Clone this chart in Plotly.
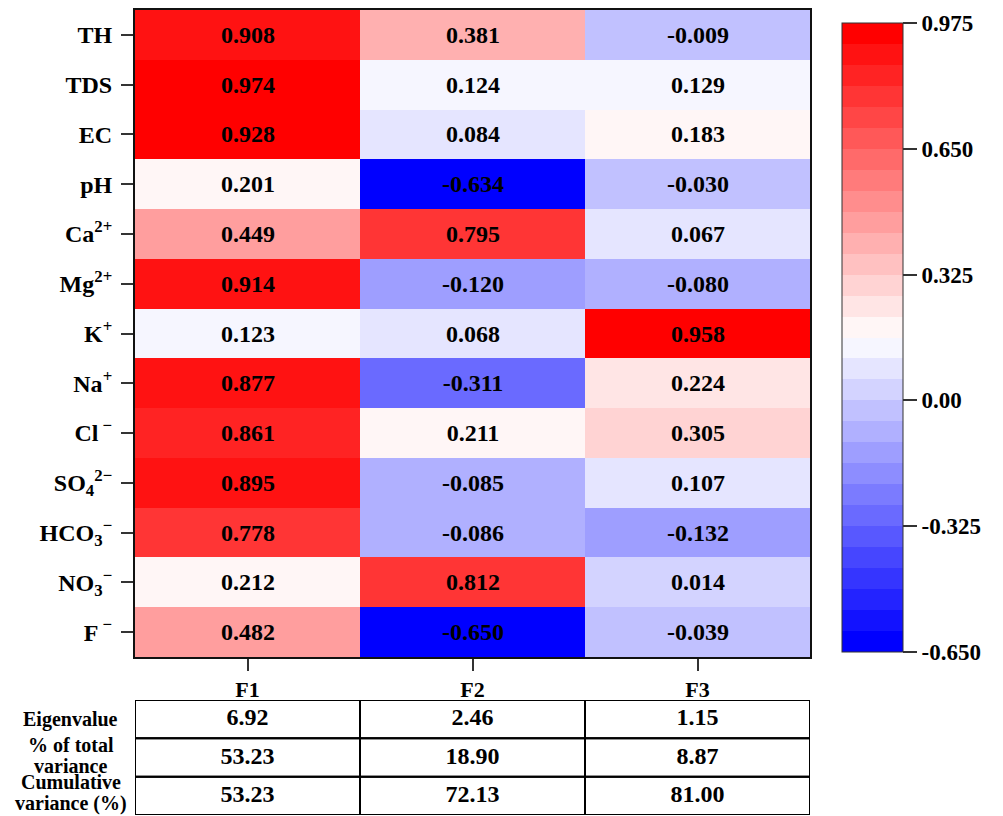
import plotly.graph_objects as go

# ---------------- data ----------------
variables = ["TH", "TDS", "EC", "pH", "Ca<sup>2+</sup>", "Mg<sup>2+</sup>", "K<sup>+</sup>",
             "Na<sup>+</sup>", "Cl<sup> −</sup>", "SO<sub>4</sub><sup>2−</sup>",
             "HCO<sub>3</sub><sup>−</sup>", "NO<sub>3</sub><sup>−</sup>", "F<sup> −</sup>"]
factors = ["F1", "F2", "F3"]
F1 = [0.908, 0.974, 0.928, 0.201, 0.449, 0.914, 0.123, 0.877, 0.861, 0.895, 0.778, 0.212, 0.482]
F2 = [0.381, 0.124, 0.084, -0.634, 0.795, -0.120, 0.068, -0.311, 0.211, -0.085, -0.086, 0.812, -0.650]
F3 = [-0.009, 0.129, 0.183, -0.030, 0.067, -0.080, 0.958, 0.224, 0.305, 0.107, -0.132, 0.014, -0.039]

table_rows = [["Eigenvalue"], ["% of total", "variance"], ["Cumulative", "variance (%)"]]
eigenvalue = [6.92, 2.46, 1.15]
pct_variance = [53.23, 18.90, 8.87]
cum_variance = [53.23, 72.13, 81.00]

cbar_ticks = [-0.650, -0.325, 0.0, 0.325, 0.650, 0.975]
cbar_ticktext = ["-0.650", "-0.325", "0.00", "0.325", "0.650", "0.975"]
ZMIN, ZMAX, NSTEPS = -0.650, 0.975, 30

# ---------------- helpers ----------------
OFF = 8                      # page body offset
W, H = 1003 - OFF, 816 - OFF
FONT = "Liberation Serif"


def px(x):
    return (x - OFF) / W


def py(y):
    return 1 - (y - OFF) / H


def bwr(t):
    if t <= 0.5:
        v = t / 0.5
        return (round(255 * v), round(255 * v), 255)
    v = (1 - t) / 0.5
    return (255, round(255 * v), round(255 * v))


colorscale = []
for i in range(NSTEPS):
    r, g, b = bwr(i / (NSTEPS - 1))
    c = f"rgb({r},{g},{b})"
    colorscale.append([i / NSTEPS, c])
    colorscale.append([(i + 1) / NSTEPS, c])

z = [[F1[i], F2[i], F3[i]] for i in range(len(variables))]
txt = [[f"{v:.3f}" for v in row] for row in z]

fig = go.Figure()
fig.add_trace(go.Heatmap(
    z=z, x=list(range(3)), y=list(range(len(variables))),
    text=txt, texttemplate="%{text}",
    textfont=dict(family=FONT, size=24, color="black", weight="bold"),
    zmin=ZMIN, zmax=ZMAX, colorscale=colorscale, hoverinfo="skip",
    colorbar=dict(
        x=px(842), xanchor="left", xpad=0, ypad=0,
        y=py(23), yanchor="top", len=629, lenmode="pixels",
        thickness=61, thicknessmode="pixels",
        outlinewidth=1, outlinecolor="#333",
        tickvals=cbar_ticks, ticktext=cbar_ticktext,
        ticks="outside", ticklen=14, tickwidth=2, tickcolor="#333",
        tickfont=dict(family=FONT, size=23, color="black", weight="bold"),
    ),
))

# table values as text marks on their own axes
tx, ty, tt = [], [], []
for r, vals in enumerate([eigenvalue, pct_variance, cum_variance]):
    for c, v in enumerate(vals):
        tx.append(c)
        ty.append(r)
        tt.append(f"{v:.2f}")
fig.add_trace(go.Scatter(
    x=tx, y=ty, text=tt, mode="text", xaxis="x2", yaxis="y2",
    textfont=dict(family=FONT, size=24, color="black", weight="bold"),
    hoverinfo="skip", showlegend=False,
))

shapes = []
for r in range(3):
    for c in range(3):
        shapes.append(dict(type="rect", xref="x2", yref="y2",
                           x0=c - 0.5, x1=c + 0.5, y0=r - 0.5, y1=r + 0.5,
                           line=dict(color="black", width=2)))

# vertical pixel shifts of each label line (relative to its row centre)
label_shifts = [[0], [13, -8], [13.5, -7.5]]
annotations = []
for r, lines in enumerate(table_rows):
    for k, line in enumerate(lines):
        annotations.append(dict(
            text=f"<b>{line}</b>", xref="paper", yref="y2", x=px(71), y=r,
            xanchor="center", yanchor="middle", yshift=label_shifts[r][k], showarrow=False,
            font=dict(family=FONT, size=20, color="black")))

x_dom = [px(135), px(810)]
fig.update_layout(
    width=W, height=H,
    margin=dict(l=0, r=0, t=0, b=0),
    paper_bgcolor="white", plot_bgcolor="white",
    xaxis=dict(domain=x_dom, range=[-0.5, 2.5], tickvals=[0, 1, 2], ticktext=factors,
               ticks="outside", ticklen=12, tickwidth=2, tickcolor="#333",
               showline=True, linecolor="#111", linewidth=2, mirror=True,
               showgrid=False, zeroline=False,
               tickfont=dict(family=FONT, size=22, color="black", weight="bold")),
    yaxis=dict(domain=[py(657), py(10)], range=[12.5, -0.5],
               tickvals=list(range(len(variables))), ticktext=variables,
               ticks="outside", ticklen=12, tickwidth=2, tickcolor="#333",
               ticklabelstandoff=4,
               showline=True, linecolor="#111", linewidth=2, mirror=True,
               showgrid=False, zeroline=False,
               tickfont=dict(family=FONT, size=24, color="black", weight="bold")),
    xaxis2=dict(domain=x_dom, range=[-0.5, 2.5], visible=False, anchor="y2"),
    yaxis2=dict(domain=[py(815), py(700)], range=[2.5, -0.5], visible=False, anchor="x2"),
    shapes=shapes,
    annotations=annotations,
)

fig.write_html("out.html")
